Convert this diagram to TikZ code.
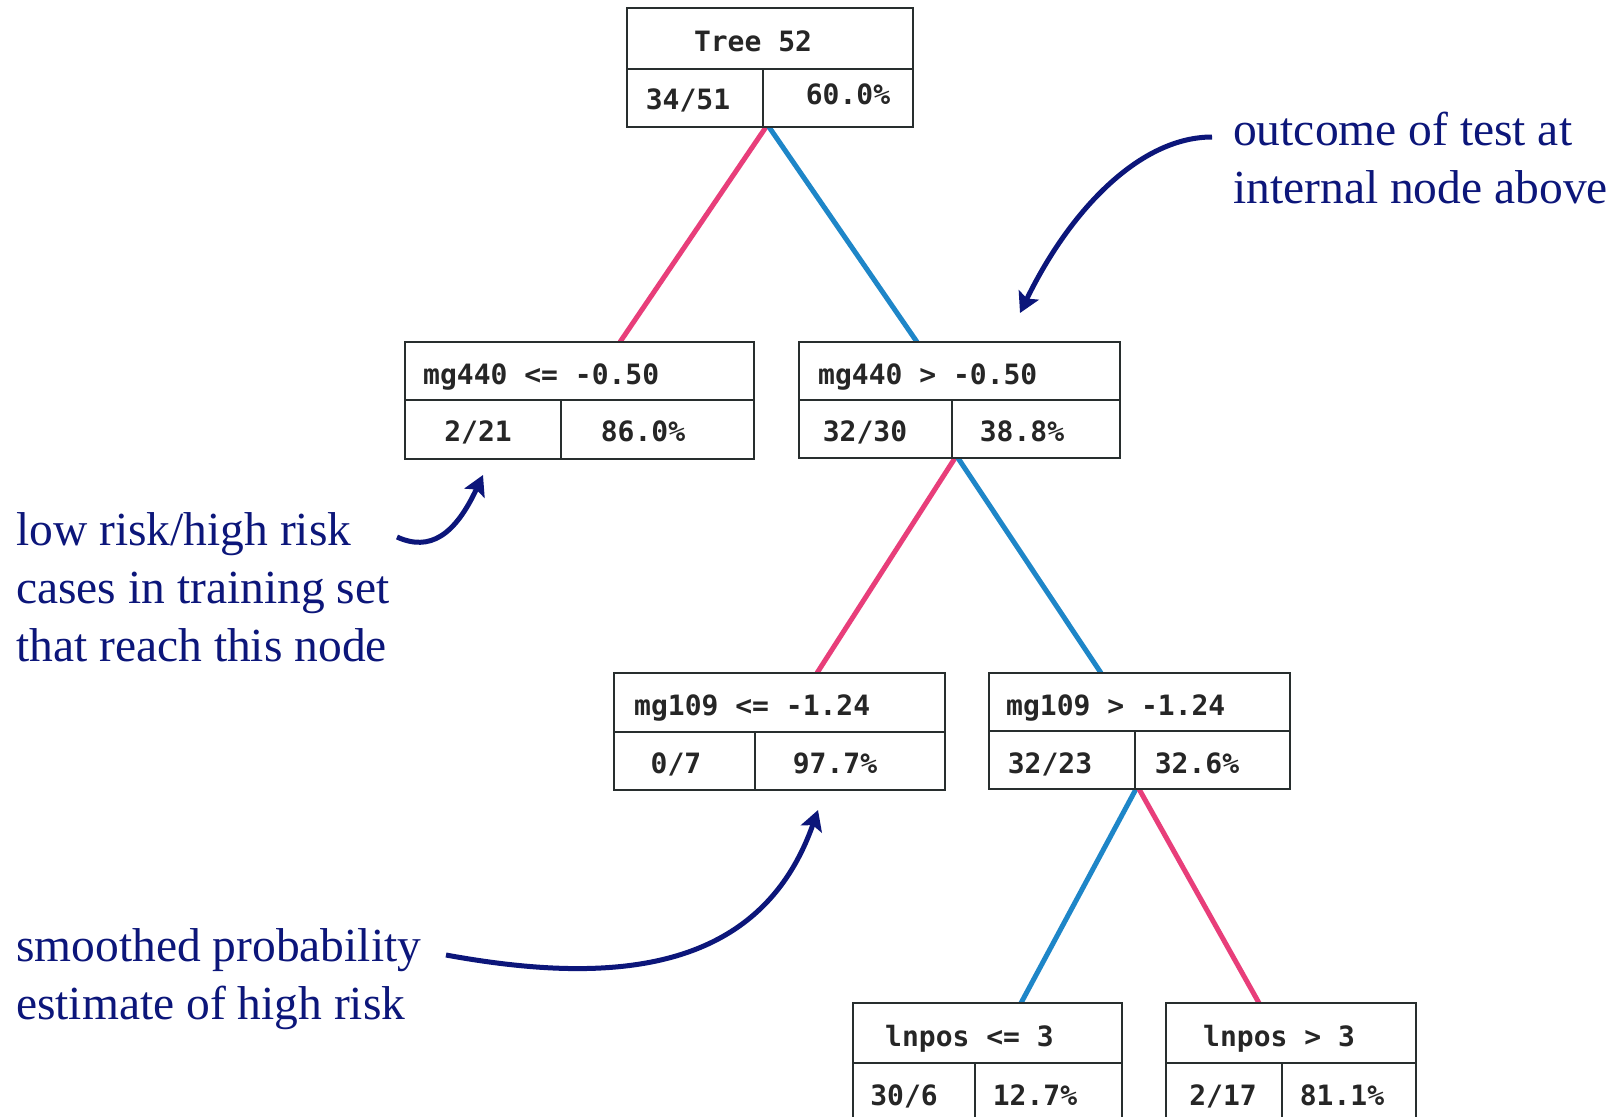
\documentclass[tikz,border=0pt]{standalone}
\usepackage{fontspec}
\setmainfont{Liberation Serif}
\newfontfamily\boxfont{DejaVu Sans Mono}
\usetikzlibrary{arrows.meta,backgrounds,calc}
\definecolor{navy}{RGB}{12,22,122}
\definecolor{pinkedge}{RGB}{232,62,122}
\definecolor{blueedge}{RGB}{30,134,200}
\definecolor{boxline}{RGB}{40,46,46}
\begin{document}
\begin{tikzpicture}[x=1pt,y=-1pt,
  cell/.style={draw=boxline, line width=2.6pt, fill=white, inner sep=0pt, outer sep=0pt, anchor=north west},
  boxtxt/.style={font=\boxfont\bfseries\fontsize{28}{28}\selectfont, inner sep=0pt, text height=20pt, text depth=0pt, text=black!85},
  ann/.style={font=\fontsize{47.5}{58}\selectfont, text=navy, inner sep=0pt, align=left, anchor=base west},
  lnk/.style={line width=5pt},
  callout/.style={draw=navy, line width=5pt, -{Stealth[length=20pt,width=22pt,inset=4pt]}}
]
\useasboundingbox (0,0) rectangle (1618,1117);

% root
\node[cell, minimum width=286pt, minimum height=61pt] (t0) at (627,8) {};
\node[cell, minimum width=136pt, minimum height=58pt] (c0) at (627,69) {};
\node[cell, minimum width=150pt, minimum height=58pt] (p0) at (763,69) {};
\node[boxtxt] (t0x) at (753,41) {Tree 52};
\node[boxtxt] (c0x) at (688,99) {34/51};
\node[boxtxt] (p0x) at (848,94) {60.0\%};

% level 2 left
\node[cell, minimum width=349pt, minimum height=58pt] (t1) at (405,342) {};
\node[cell, minimum width=156pt, minimum height=59pt] (c1) at (405,400) {};
\node[cell, minimum width=193pt, minimum height=59pt] (p1) at (561,400) {};
\node[boxtxt, anchor=west] (t1x) at (423,374) {mg440 <= -0.50};
\node[boxtxt] (c1x) at (478,431) {2/21};
\node[boxtxt] (p1x) at (643,431) {86.0\%};

% level 2 right
\node[cell, minimum width=321pt, minimum height=58pt] (t2) at (799,342) {};
\node[cell, minimum width=153pt, minimum height=58pt] (c2) at (799,400) {};
\node[cell, minimum width=168pt, minimum height=58pt] (p2) at (952,400) {};
\node[boxtxt, anchor=west] (t2x) at (818,374) {mg440 > -0.50};
\node[boxtxt] (c2x) at (865,431) {32/30};
\node[boxtxt] (p2x) at (1022,431) {38.8\%};

% level 3 left
\node[cell, minimum width=331pt, minimum height=59pt] (t3) at (614,673) {};
\node[cell, minimum width=141pt, minimum height=58pt] (c3) at (614,732) {};
\node[cell, minimum width=190pt, minimum height=58pt] (p3) at (755,732) {};
\node[boxtxt, anchor=west] (t3x) at (634,705) {mg109 <= -1.24};
\node[boxtxt] (c3x) at (676,763) {0/7};
\node[boxtxt] (p3x) at (835,763) {97.7\%};

% level 3 right
\node[cell, minimum width=301pt, minimum height=58pt] (t4) at (989,673) {};
\node[cell, minimum width=146pt, minimum height=58pt] (c4) at (989,731) {};
\node[cell, minimum width=155pt, minimum height=58pt] (p4) at (1135,731) {};
\node[boxtxt, anchor=west] (t4x) at (1006,705) {mg109 > -1.24};
\node[boxtxt] (c4x) at (1050,763) {32/23};
\node[boxtxt] (p4x) at (1197,763) {32.6\%};

% level 4 left
\node[cell, minimum width=269pt, minimum height=60pt] (t5) at (853,1003) {};
\node[cell, minimum width=122pt, minimum height=60pt] (c5) at (853,1063) {};
\node[cell, minimum width=147pt, minimum height=60pt] (p5) at (975,1063) {};
\node[boxtxt, anchor=west] (t5x) at (885,1036) {lnpos <= 3};
\node[boxtxt] (c5x) at (904,1095) {30/6};
\node[boxtxt] (p5x) at (1035,1095) {12.7\%};

% level 4 right
\node[cell, minimum width=250pt, minimum height=60pt] (t6) at (1166,1003) {};
\node[cell, minimum width=116pt, minimum height=60pt] (c6) at (1166,1063) {};
\node[cell, minimum width=134pt, minimum height=60pt] (p6) at (1282,1063) {};
\node[boxtxt, anchor=west] (t6x) at (1203,1036) {lnpos > 3};
\node[boxtxt] (c6x) at (1223,1095) {2/17};
\node[boxtxt] (p6x) at (1342,1095) {81.1\%};

% annotations (base anchor = baseline of last line)
\node[ann] (a1) at (1233,203) {outcome of test at\\internal node above};
\node[ann] (a2) at (16,661) {low risk/high risk\\cases in training set\\that reach this node};
\node[ann] (a3) at (16,1019) {smoothed probability\\estimate of high risk};

\coordinate (a1s) at (1212,137);
\coordinate (a1e) at (1020,313);
\coordinate (a2s) at (397,537);
\coordinate (a2e) at (483,475);
\coordinate (a3s) at (446,955);
\coordinate (a3e) at (818,810);

\draw[callout] (a1s) .. controls (1140,137) and (1070,210) .. (a1e);
\draw[callout] (a2s) .. controls (430,552) and (455,535) .. (a2e);
\draw[callout] (a3s) .. controls (610,985) and (760,975) .. (a3e);

\begin{scope}[on background layer]
\fill[white] (0,0) rectangle (1618,1117);
\draw[lnk, pinkedge] ([xshift=3pt]c0.south east) -- ([xshift=215pt]t1.north west);
\draw[lnk, blueedge] ([xshift=6pt]c0.south east) -- ([xshift=118pt]t2.north west);
\draw[lnk, pinkedge] ([xshift=3pt]c2.south east) -- ([xshift=203pt]t3.north west);
\draw[lnk, blueedge] ([xshift=6pt]c2.south east) -- ([xshift=112pt]t4.north west);
\draw[lnk, blueedge] ([xshift=1pt]c4.south east) -- ([xshift=168pt]t5.north west);
\draw[lnk, pinkedge] ([xshift=4pt]c4.south east) -- ([xshift=93pt]t6.north west);
\end{scope}
\end{tikzpicture}
\end{document}
